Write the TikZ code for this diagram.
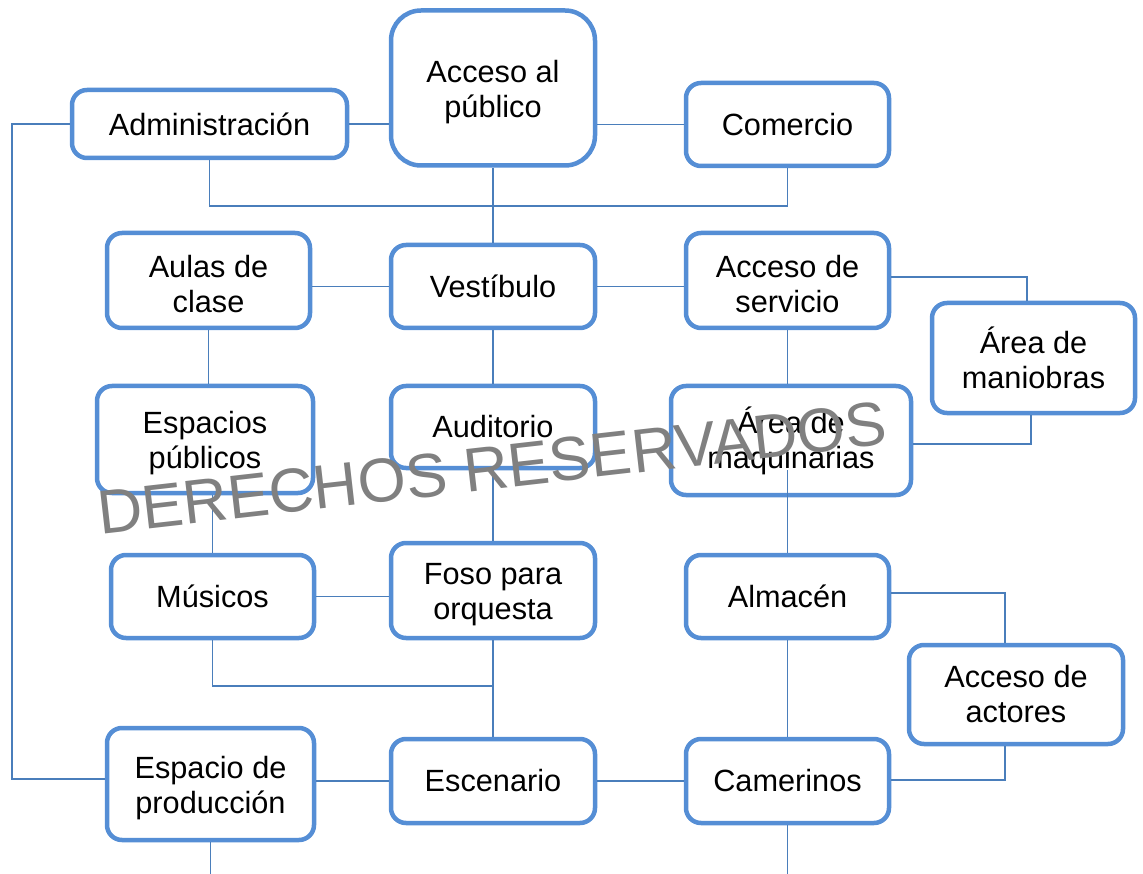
\documentclass[tikz,border=0pt]{standalone}
\usepackage{fontspec}
\setmainfont{Liberation Sans}
\definecolor{boxblue}{RGB}{85,142,213}
\definecolor{lineblue}{RGB}{74,126,187}
\definecolor{wmgray}{RGB}{128,128,128}
\newcommand{\topstrut}{\rule{0pt}{30pt}}
\begin{document}
\begin{tikzpicture}[x=1pt,y=-1pt,
  box/.style={draw=boxblue, line width=4.5pt, fill=white, rounded corners=15pt,
    align=center, inner sep=0pt, font=\fontsize{30.7}{35}\selectfont},
  conn/.style={draw=lineblue, line width=1.5pt}]
\useasboundingbox (0,0) rectangle (1143,874);
% boxes
\node[box, rounded corners=30pt, minimum width=204pt, minimum height=155pt] (pub) at (493,88) {\topstrut Acceso al\\público};
\node[box, minimum width=275pt, minimum height=68pt] (adm) at (209.5,124) {Administración};
\node[box, minimum width=203pt, minimum height=83pt] (com) at (787.5,124.5) {Comercio};
\node[box, minimum width=203pt, minimum height=95pt] (aul) at (208.5,280.5) {\topstrut Aulas de\\clase};
\node[box, minimum width=204pt, minimum height=83pt] (ves) at (493,286.5) {Vestíbulo};
\node[box, minimum width=203pt, minimum height=95pt] (ser) at (787.5,280.5) {\topstrut Acceso de\\servicio};
\node[box, minimum width=203pt, minimum height=110pt] (man) at (1033.5,358) {Área de\\maniobras};
\node[box, minimum width=216pt, minimum height=107pt] (esp) at (205,439.5) {\topstrut Espacios\\públicos};
\node[box, minimum width=204pt, minimum height=82pt] (aud) at (493,427) {Auditorio};
\node[box, minimum width=240pt, minimum height=109pt] (maq) at (791,440.5) {Área de\\maquinarias};
\node[box, minimum width=203pt, minimum height=83pt] (mus) at (212.5,596.5) {Músicos};
\node[box, minimum width=204pt, minimum height=95pt] (fos) at (493,590.5) {\topstrut Foso para\\orquesta};
\node[box, minimum width=203pt, minimum height=83pt] (alm) at (787.5,596.5) {Almacén};
\node[box, minimum width=214pt, minimum height=99pt] (act) at (1016,694.5) {Acceso de\\actores};
\node[box, minimum width=207pt, minimum height=112pt] (pro) at (210.5,784) {\topstrut Espacio de\\producción};
\node[box, minimum width=204pt, minimum height=84pt] (esc) at (493,781) {Escenario};
\node[box, minimum width=203pt, minimum height=84pt] (cam) at (787.5,781) {Camerinos};
% helper coordinates
\coordinate (lt) at (12,124);
\coordinate (lb) at (12,779);
\coordinate (t1) at (209,206);
\coordinate (m1) at (1027,277);
\coordinate (m2) at (1031,444);
\coordinate (q1) at (787,470);
\coordinate (f1) at (493,686);
\coordinate (a1) at (1005,593);
\coordinate (a2) at (1005,780);
\coordinate (b1) at (208,874);
\coordinate (b2) at (788,874);
% connectors
\draw[conn] (adm.west) -- (lt) -- (lb) -- (lb -| pro.west);
\draw[conn] (adm.east) -- (adm.east -| pub.west);
\draw[conn] (pub.east |- com.west) -- (com.west);
\draw[conn] (adm.south) -- (adm.south |- t1) -- (t1 -| com.south) -- (com.south);
\draw[conn] (pub.south) -- (ves.north);
\draw[conn] (aul.east |- ves.west) -- (ves.west);
\draw[conn] (ves.east) -- (ves.east -| ser.west);
\draw[conn] (ser.east |- m1) -- (m1) -- (m1 |- man.north);
\draw[conn] (man.south -| m2) -- (m2) -- (m2 -| maq.east);
\draw[conn] (ser.south) -- (ser.south |- maq.north);
\draw[conn] (q1 -| alm.north) -- (alm.north);
\draw[conn] (aul.south) -- (aul.south |- esp.north);
\draw[conn] (mus.north) -- (mus.north |- esp.south);
\draw[conn] (ves.south) -- (aud.north);
\draw[conn] (aud.south) -- (fos.north);
\draw[conn] (mus.east) -- (mus.east -| fos.west);
\draw[conn] (mus.south) -- (mus.south |- f1) -- (f1);
\draw[conn] (fos.south) -- (esc.north);
\draw[conn] (pro.east |- esc.west) -- (esc.west);
\draw[conn] (esc.east) -- (cam.west);
\draw[conn] (alm.south) -- (cam.north);
\draw[conn] (alm.east |- a1) -- (a1) -- (a1 |- act.north);
\draw[conn] (act.south -| a2) -- (a2) -- (a2 -| cam.east);
\draw[conn] (pro.south) -- (pro.south |- b1);
\draw[conn] (cam.south) -- (cam.south |- b2);
% watermark
\node[rotate=6.5, text=wmgray, inner sep=0pt, font=\fontsize{62}{62}\selectfont] (wm) at (492,468) {DERECHOS RESERVADOS};
\end{tikzpicture}
\end{document}
